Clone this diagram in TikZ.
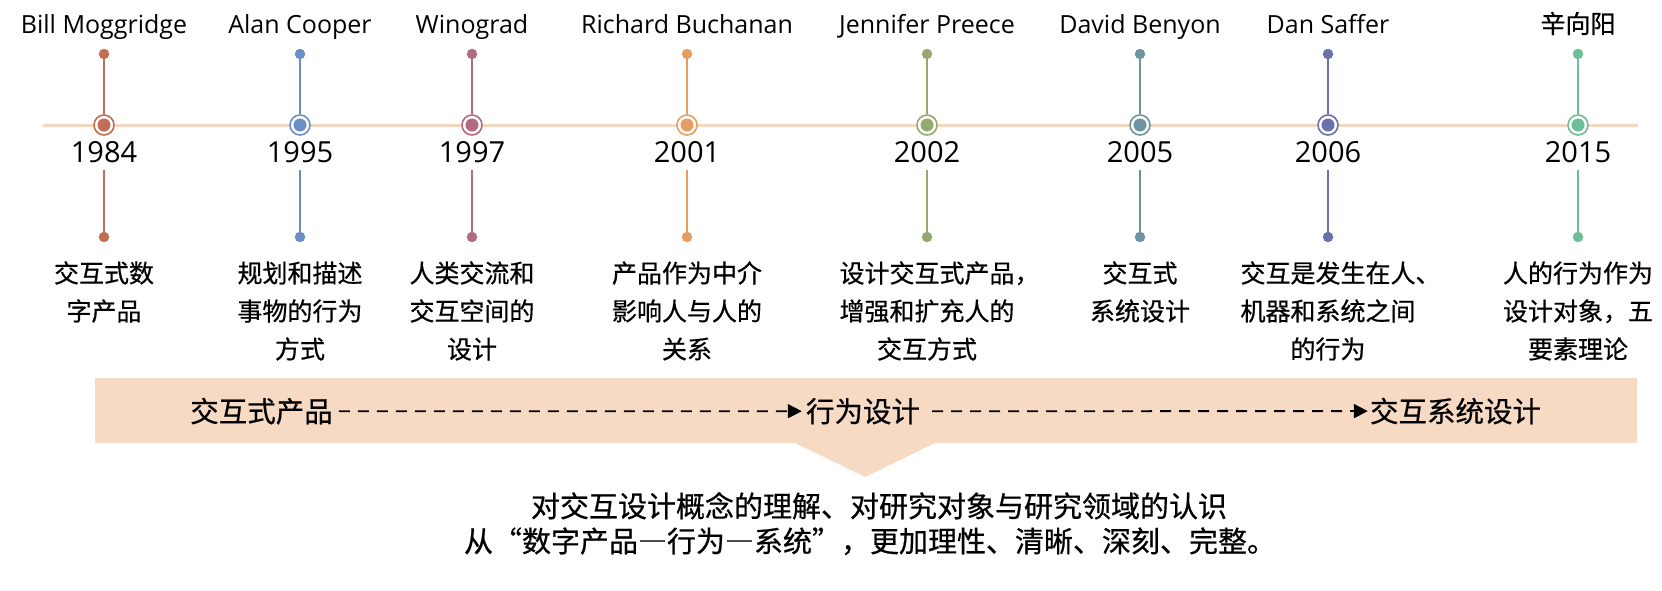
\documentclass[tikz,border=0pt]{standalone}
\usepackage{fontspec}
\setmainfont{Open Sans}
\newfontfamily\cjk[FakeBold=0.6]{Noto Sans CJK SC}
\newfontfamily\cjkfw[RawFeature=+fwid,FakeBold=0.6]{Noto Sans CJK SC}
\usetikzlibrary{arrows.meta}
\definecolor{cA}{HTML}{C16E55}
\definecolor{cB}{HTML}{6A8EC6}
\definecolor{cC}{HTML}{B26A80}
\definecolor{cD}{HTML}{E49E60}
\definecolor{cE}{HTML}{96AA6E}
\definecolor{cF}{HTML}{6E94A0}
\definecolor{cG}{HTML}{6A70AA}
\definecolor{cH}{HTML}{6EBE96}
\definecolor{bandcol}{HTML}{F7DAC4}
\definecolor{linecol}{HTML}{F5D6BF}
\begin{document}
\begin{tikzpicture}[x=1pt,y=-1pt,
  namelbl/.style={font=\fontsize{25}{30}\selectfont, anchor=base, inner sep=0pt},
  yearlbl/.style={font=\fontsize{29}{34}\selectfont, anchor=base, inner sep=0pt},
  desclbl/.style={font=\cjk\fontsize{25}{38}\selectfont, align=center, anchor=base, inner sep=0pt},
  bandlbl/.style={font=\cjk\fontsize{28.5}{34}\selectfont, anchor=base, inner sep=0pt},
  sumlbl/.style={font=\cjk\fontsize{29}{35}\selectfont, anchor=base, inner sep=0pt},
  dotnode/.style={circle, inner sep=0pt, minimum size=10.5pt},
  ringnode/.style={circle, inner sep=0pt, minimum size=20pt, line width=1.6pt, fill=white},
  corenode/.style={circle, inner sep=0pt, minimum size=13pt},
  stem/.style={line width=1.4pt},
  dasharrow/.style={line width=1.8pt, dash pattern=on 11pt off 8pt, -{Triangle[length=14pt,width=14pt]}}
]
\useasboundingbox (0,0) rectangle (1662,590);
% timeline
\coordinate (tlA) at (43,125);
\coordinate (tlB) at (1638,125);
\draw[linecol, line width=3pt] (tlA) -- (tlB);
% events
\foreach \x/\c/\n/\y/\k/\d [count=\i] in {
  104/cA/{Bill Moggridge}/1984/1/{交互式数\\字产品},
  300/cB/{Alan Cooper}/1995/2/{规划和描述\\事物的行为\\方式},
  472/cC/{Winograd}/1997/2/{人类交流和\\交互空间的\\设计},
  687/cD/{Richard Buchanan}/2001/2/{产品作为中介\\影响人与人的\\关系},
  927/cE/{Jennifer Preece}/2002/2/{设计交互式产品\rlap{，}\\增强和扩充人的\\交互方式},
  1140/cF/{David Benyon}/2005/1/{交互式\\系统设计},
  1328/cG/{Dan Saffer}/2006/2/{交互是发生在人\rlap{、}\\机器和系统之间\\的行为},
  1578/cH/{\cjk 辛向阳}/2015/2/{人的行为作为\\设计对象，五\\要素理论}}
{
  \node[namelbl] (nm\i) at (\x,33) {\n};
  \node[dotnode, fill=\c] (td\i) at (\x,54) {};
  \node[ringnode, draw=\c] (rg\i) at (\x,125) {};
  \draw[stem, \c] (td\i) -- (rg\i);
  \node[corenode, fill=\c] (cr\i) at (\x,125) {};
  \node[yearlbl] (yr\i) at (\x,162) {\y};
  \coordinate (bs\i) at (\x,170);
  \node[dotnode, fill=\c] (bd\i) at (\x,237) {};
  \draw[stem, \c] (bs\i) -- (bd\i);
  \node[desclbl] (ds\i) at (\x,282.5+38*\k) {\d};
}
% band
\fill[bandcol] (95,378) -- (1637,378) -- (1637,443) -- (935,443) -- (865,477) -- (795,443) -- (95,443) -- cycle;
\node[bandlbl] (b1) at (261.5,422) {交互式产品};
\node[bandlbl] (b2) at (863,422) {行为设计};
\node[bandlbl] (b3) at (1455.5,422) {交互系统设计};
\draw[dasharrow, shorten <=6pt, shorten >=4pt] (b1.east) -- (b2.west);
\draw[dasharrow, shorten <=12pt, shorten >=2pt] (b2.east) -- (b3.west);
% summary
\node[sumlbl] (s1) at (879,517) {对交互设计概念的理解、对研究对象与研究领域的认识};
\node[sumlbl, font=\cjkfw\fontsize{29}{35}\selectfont] (s2) at (870,552) {从“数字产品—行为—系统”，更加理性、清晰、深刻、完整。};
\end{tikzpicture}
\end{document}
